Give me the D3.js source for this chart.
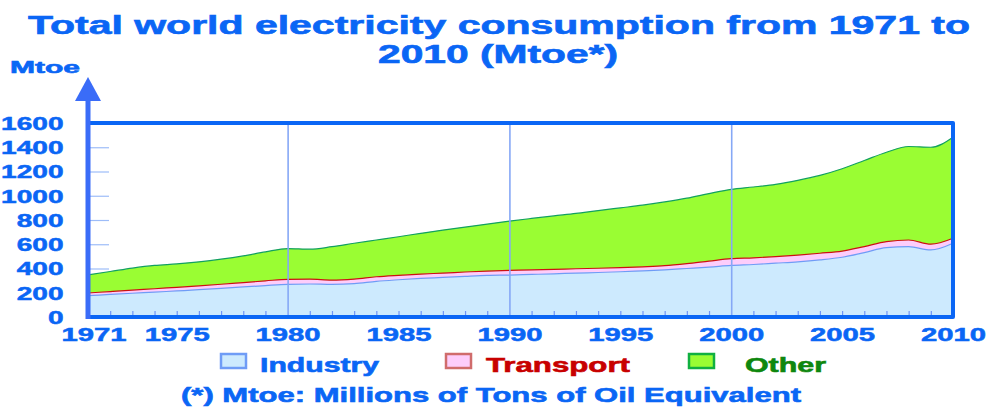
<!DOCTYPE html>
<html>
<head>
<meta charset="utf-8">
<script src="https://cdn.jsdelivr.net/npm/d3@7"></script>
<style>
  body { margin: 0; background: #fff; }
  text { font-family: "Liberation Sans", Arial, sans-serif; font-weight: bold; }
</style>
</head>
<body>
<div id="chart"></div>
<script>
// data (Mtoe)
var years = [1971,1972,1973,1974,1975,1976,1977,1978,1979,1980,
             1981,1982,1983,1984,1985,1986,1987,1988,1989,1990,
             1991,1992,1993,1994,1995,1996,1997,1998,1999,2000,
             2001,2002,2003,2004,2005,2006,2007,2008,2009,2010]

var industry = [176,186,196,205,215,225,236,248,259,269,
                272,269,275,294,307,318,326,335,343,346,
                351,356,362,367,373,381,389,400,411,425,
                433,444,455,471,493,531,572,580,553,608]

var transport = [22,24,26,28,30,32,34,36,39,42,
                 40,35,38,38,37,36,36,36,36,38,
                 38,37,36,35,34,33,34,40,50,56,
                 55,54,56,55,50,50,50,55,48,42]

var other = [150,165,181,192,193,198,207,220,239,253,
             247,276,295,303,318,336,355,371,387,407,
             424,441,456,476,493,508,526,540,557,572,
             584,596,616,642,680,710,737,771,799,832]

var yTicks = [0,200,400,600,800,1000,1200,1400,1600]
var xLabels = [1971,1975,1980,1985,1990,1995,2000,2005,2010]
var decadeLines = [1980,1990,2000]

var seriesNames = ["Industry","Transport","Other"]
var seriesKeys = ["industry","transport","other"]

var W = 987, H = 407
var margin = {top: 123, right: 34, bottom: 90, left: 88}

var colors = {
	industry: {fill:"#cdeafe", line:"#6f9cf6", box:"#6f9cf6", text:"#0a66f5"},
	transport: {fill:"#fdcdfb", line:"#cc1111", box:"#d06c6c", text:"#c80000"},
	other: {fill:"#9afd33", line:"#12a060", box:"#10b040", text:"#0e870e"}
}

var table = years.map(function(y,i){
	return {year:y, industry:industry[i], transport:transport[i], other:other[i]}
})

var svg = d3.select("#chart").append("svg")
	.attr("width",W)
	.attr("height",H)

var xScale = d3.scaleLinear()
	.domain([1971,2010])
	.range([margin.left, W - margin.right])

var yScale = d3.scaleLinear()
	.domain([0,1600])
	.range([H - margin.bottom, margin.top])

// stretched bold text, like the wide lettering of the original
function wideText(g, txt, x, y, w, size, color){
	return g.append("text")
		.attr("x",x)
		.attr("y",y)
		.attr("textLength",w)
		.attr("lengthAdjust","spacingAndGlyphs")
		.attr("font-size",size+"px")
		.attr("fill",color)
		.attr("stroke",color)
		.attr("stroke-width",0.6)
		.text(txt)
}

// title
wideText(svg,"Total world electricity consumption from 1971 to",28,34,942,25,"#0a66f5")
wideText(svg,"2010 (Mtoe*)",378,63,240,25,"#0a66f5")
wideText(svg,"Mtoe",10,72.5,70,16.5,"#0a66f5")

// short horizontal grid ticks
svg.append("g")
	.attr("transform","translate(" + (margin.left+2) + ",0)")
	.call(d3.axisLeft(yScale).tickValues([200,400,600,800,1000,1200,1400]).tickSize(-19).tickFormat(""))
	.call(function(g){ g.select(".domain").remove() })
	.selectAll("line")
	.attr("stroke","#9dbcf8")
	.attr("stroke-width",1.2)

// stacked areas
var stack = d3.stack().keys(seriesKeys)
var layers = stack(table)

var area = d3.area()
	.x(function(d){ return xScale(d.data.year) })
	.y0(function(d){ return yScale(d[0]) })
	.y1(function(d){ return yScale(d[1]) })
	.curve(d3.curveMonotoneX)

var topLine = d3.line()
	.x(function(d){ return xScale(d.data.year) })
	.y(function(d){ return yScale(d[1]) })
	.curve(d3.curveMonotoneX)

svg.selectAll(".layer")
	.data(layers)
	.enter().append("path")
	.attr("class","layer")
	.attr("d",area)
	.attr("fill",function(d){ return colors[d.key].fill })

svg.selectAll(".layer_line")
	.data(layers)
	.enter().append("path")
	.attr("class","layer_line")
	.attr("d",topLine)
	.attr("fill","none")
	.attr("stroke",function(d){ return colors[d.key].line })
	.attr("stroke-width",1.2)

// vertical lines at the decades
svg.append("g")
	.attr("transform","translate(0," + yScale(0) + ")")
	.call(d3.axisBottom(xScale).tickValues(decadeLines).tickSize(-(yScale(0)-yScale(1600))).tickFormat(""))
	.call(function(g){ g.select(".domain").remove() })
	.selectAll("line")
	.attr("stroke","#86a8f6")
	.attr("stroke-width",1.6)

// yearly minor ticks
svg.append("g")
	.attr("transform","translate(0," + (yScale(0)-1) + ")")
	.call(d3.axisBottom(xScale).tickValues(years.filter(function(y){
		return y > 1971 && y < 2010 && decadeLines.indexOf(y) < 0
	})).tickSize(-5).tickFormat(""))
	.call(function(g){ g.select(".domain").remove() })
	.selectAll("line")
	.attr("stroke","#6f94f6")
	.attr("stroke-width",1.2)

// frame: top, right, bottom
svg.append("path")
	.attr("d","M" + xScale(1971) + "," + yScale(1600) + "H" + xScale(2010) + "V" + yScale(0) + "H" + xScale(1971))
	.attr("fill","none")
	.attr("stroke","#0a66f5")
	.attr("stroke-width",4)
	.attr("stroke-linejoin","round")

// y axis with arrow
var ax = xScale(1971)
svg.append("line")
	.attr("x1",ax).attr("x2",ax)
	.attr("y1",yScale(0)+2).attr("y2",99)
	.attr("stroke","#3a6cf8")
	.attr("stroke-width",5)

svg.append("path")
	.attr("d","M" + (ax-13) + ",101L" + ax + ",77L" + (ax+13) + ",101Z")
	.attr("fill","#3a6cf8")

// y labels
var digitW = 15.6
var yAxis = svg.append("g")
	.attr("transform","translate(63.5,0)")
	.call(d3.axisLeft(yScale).tickValues(yTicks).tickSize(0).tickPadding(0).tickFormat(d3.format("d")))
yAxis.select(".domain").remove()
yAxis.selectAll("text")
	.attr("font-size","18px")
	.attr("font-family","Liberation Sans, Arial, sans-serif")
	.attr("fill","#0a66f5")
	.attr("stroke","#0a66f5")
	.attr("stroke-width",0.5)
	.attr("dy","0.36em")
	.attr("x",function(d){ return -String(d).length*digitW })
	.attr("text-anchor","start")
	.attr("textLength",function(d){ return String(d).length*digitW })
	.attr("lengthAdjust","spacingAndGlyphs")

// x labels
var xAxis = svg.append("g")
	.attr("transform","translate(0,341)")
	.call(d3.axisBottom(xScale).tickValues(xLabels).tickSize(0).tickPadding(0).tickFormat(d3.format("d")))
xAxis.select(".domain").remove()
xAxis.selectAll("text")
	.attr("font-size","18px")
	.attr("font-family","Liberation Sans, Arial, sans-serif")
	.attr("fill","#0a66f5")
	.attr("stroke","#0a66f5")
	.attr("stroke-width",0.5)
	.attr("y",0)
	.attr("dy",0)
	.attr("text-anchor","start")
	.attr("x",function(d){ return d == 1971 ? -27 : -32.5 })
	.attr("textLength",65)
	.attr("lengthAdjust","spacingAndGlyphs")

// legend
var legendX = [[220,260,119],[445,486,144],[688,745,81]]
seriesKeys.forEach(function(k,i){
	svg.append("rect")
		.attr("x",legendX[i][0]+1)
		.attr("y",354)
		.attr("width",25)
		.attr("height",14)
		.attr("fill",colors[k].fill)
		.attr("stroke",colors[k].box)
		.attr("stroke-width",2.5)
	wideText(svg,seriesNames[i],legendX[i][1],371.5,legendX[i][2],20,colors[k].text)
})

wideText(svg,"(*) Mtoe: Millions of Tons of Oil Equivalent",181,402,620,20.5,"#0a66f5")
</script>
</body>
</html>
